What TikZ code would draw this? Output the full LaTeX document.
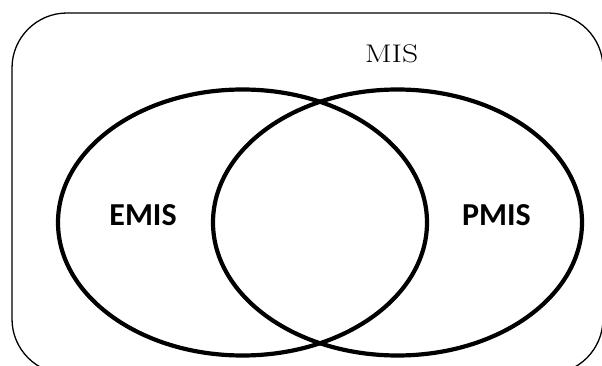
\documentclass[tikz,border=0pt]{standalone}
\usepackage{fontspec}
\newfontfamily\calib{Carlito}
\tikzset{
  venn/.style={draw=black, line width=4.2pt},
  frame/.style={draw=black, line width=1.3pt, rounded corners=55pt},
  setlabel/.style={font=\calib\bfseries\fontsize{32}{38}\selectfont, inner sep=0pt},
  toplabel/.style={font=\fontsize{25.5}{30}\selectfont, inner sep=0pt, xscale=1.24}
}
\begin{document}
\begin{tikzpicture}[x=1pt,y=-1pt]
\useasboundingbox (0,0) rectangle (602,366);
\draw[frame] (12,13) rectangle (603,374);
\coordinate (left) at (242.5,222.5);
\coordinate (right) at (397.5,222.5);
\draw[venn] (left) ellipse [x radius=184.5, y radius=133];
\draw[venn] (right) ellipse [x radius=184.5, y radius=133];
\node[toplabel] (mis) at (391.5,54) {MIS};
\node[setlabel] (emis) at (143,215) {EMIS};
\node[setlabel] (pmis) at (496.5,215) {PMIS};
\end{tikzpicture}
\end{document}
